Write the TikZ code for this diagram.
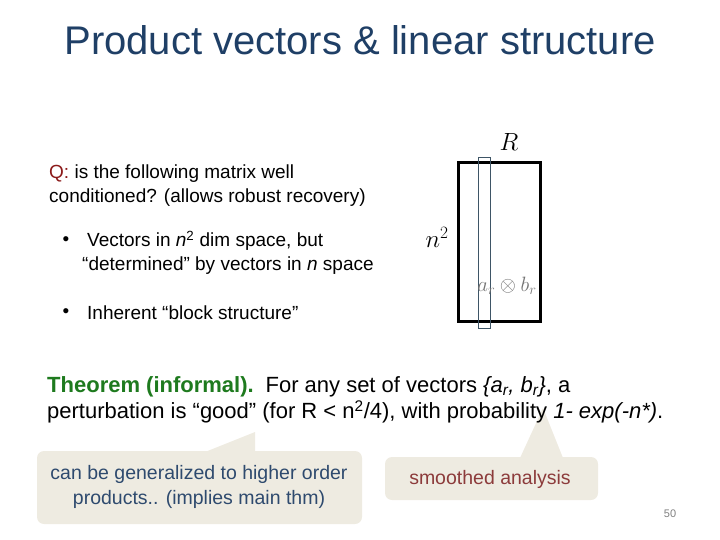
\documentclass[tikz,border=0pt]{standalone}
\usepackage{fontspec}
\setmainfont{Liberation Sans}
\definecolor{titleblue}{HTML}{1F3F66}
\definecolor{calloutbg}{HTML}{EEEBE1}
\definecolor{callblue}{HTML}{2E4A6E}
\definecolor{callred}{HTML}{8C3B3B}
\definecolor{qred}{HTML}{8B1A1A}
\definecolor{thmgreen}{HTML}{1E7A1E}
\definecolor{stripc}{HTML}{3E5566}
\begin{document}
\begin{tikzpicture}[x=1pt,y=-1pt,
  body/.style={font=\fontsize{19}{24}\selectfont, text=black, inner sep=0pt},
  callout/.style={fill=calloutbg, draw=none}]
\useasboundingbox (0,0) rectangle (720,540);
\node[text=titleblue, font=\fontsize{40}{44}\selectfont, inner sep=0pt] (title) at (360,40) {Product vectors \& linear structure};
\node[body, anchor=west, align=left] (q) at (49,186) {{\color{qred}Q:} is the following matrix well\\conditioned? (allows robust recovery)};
\node[body] (b1dot) at (66,241) {•};
\node[body, anchor=west, align=left] (b1) at (87,253) {Vectors in \textit{n}\textsuperscript{2} dim space, but\\\hspace*{-5pt}“determined” by vectors in \textit{n} space};
\node[body] (b2dot) at (66,313) {•};
\node[body, anchor=west] (b2) at (87,313) {Inherent “block structure”};
% matrix
\draw[line width=3pt] (458,163) rectangle (540,321);
\node[draw=stripc, line width=0.6pt, minimum width=12pt, minimum height=171pt, inner sep=0pt] (strip) at (484,242.5) {};
\node[font=\fontsize{24}{24}\selectfont, inner sep=0pt] (R) at (509,142) {$R$};
\node[font=\fontsize{24}{24}\selectfont, inner sep=0pt] (n2) at (437,237) {$n^2$};
\node[font=\fontsize{21}{21}\selectfont, text=black!55, inner sep=0pt] (ab) at (507,286) {$a_r\otimes b_r$};
% callouts
\fill[callout, rounded corners=7pt] (37,451) rectangle (362,524);
\fill[callout] (205,452) -- (255,432) -- (255,452) -- cycle;
\node[text=callblue, align=center, font=\fontsize{19.5}{25}\selectfont, inner sep=0pt] (c1) at (199,487) {can be generalized to higher order\\products.. (implies main thm)};
\fill[callout, rounded corners=7pt] (385,457) rectangle (598,500);
\fill[callout] (520,458) -- (543,408) -- (563,458) -- cycle;
\node[text=callred, font=\fontsize{19.5}{22}\selectfont, inner sep=0pt] (c2) at (490,479) {smoothed analysis};
% theorem
\node[body, anchor=west, align=left, font=\fontsize{22}{26}\selectfont] (thm) at (47,400) {{\color{thmgreen}\textbf{Theorem (informal).}}\, For any set of vectors \textit{\{a\textsubscript{r}, b\textsubscript{r}\}}, a\\perturbation is “good” (for R < n\textsuperscript{2}/4), with probability \textit{1- exp(-n*)}.};
\node[text=black!50, font=\fontsize{11}{11}\selectfont, inner sep=0pt] (pg) at (670,514) {50};
\end{tikzpicture}
\end{document}
